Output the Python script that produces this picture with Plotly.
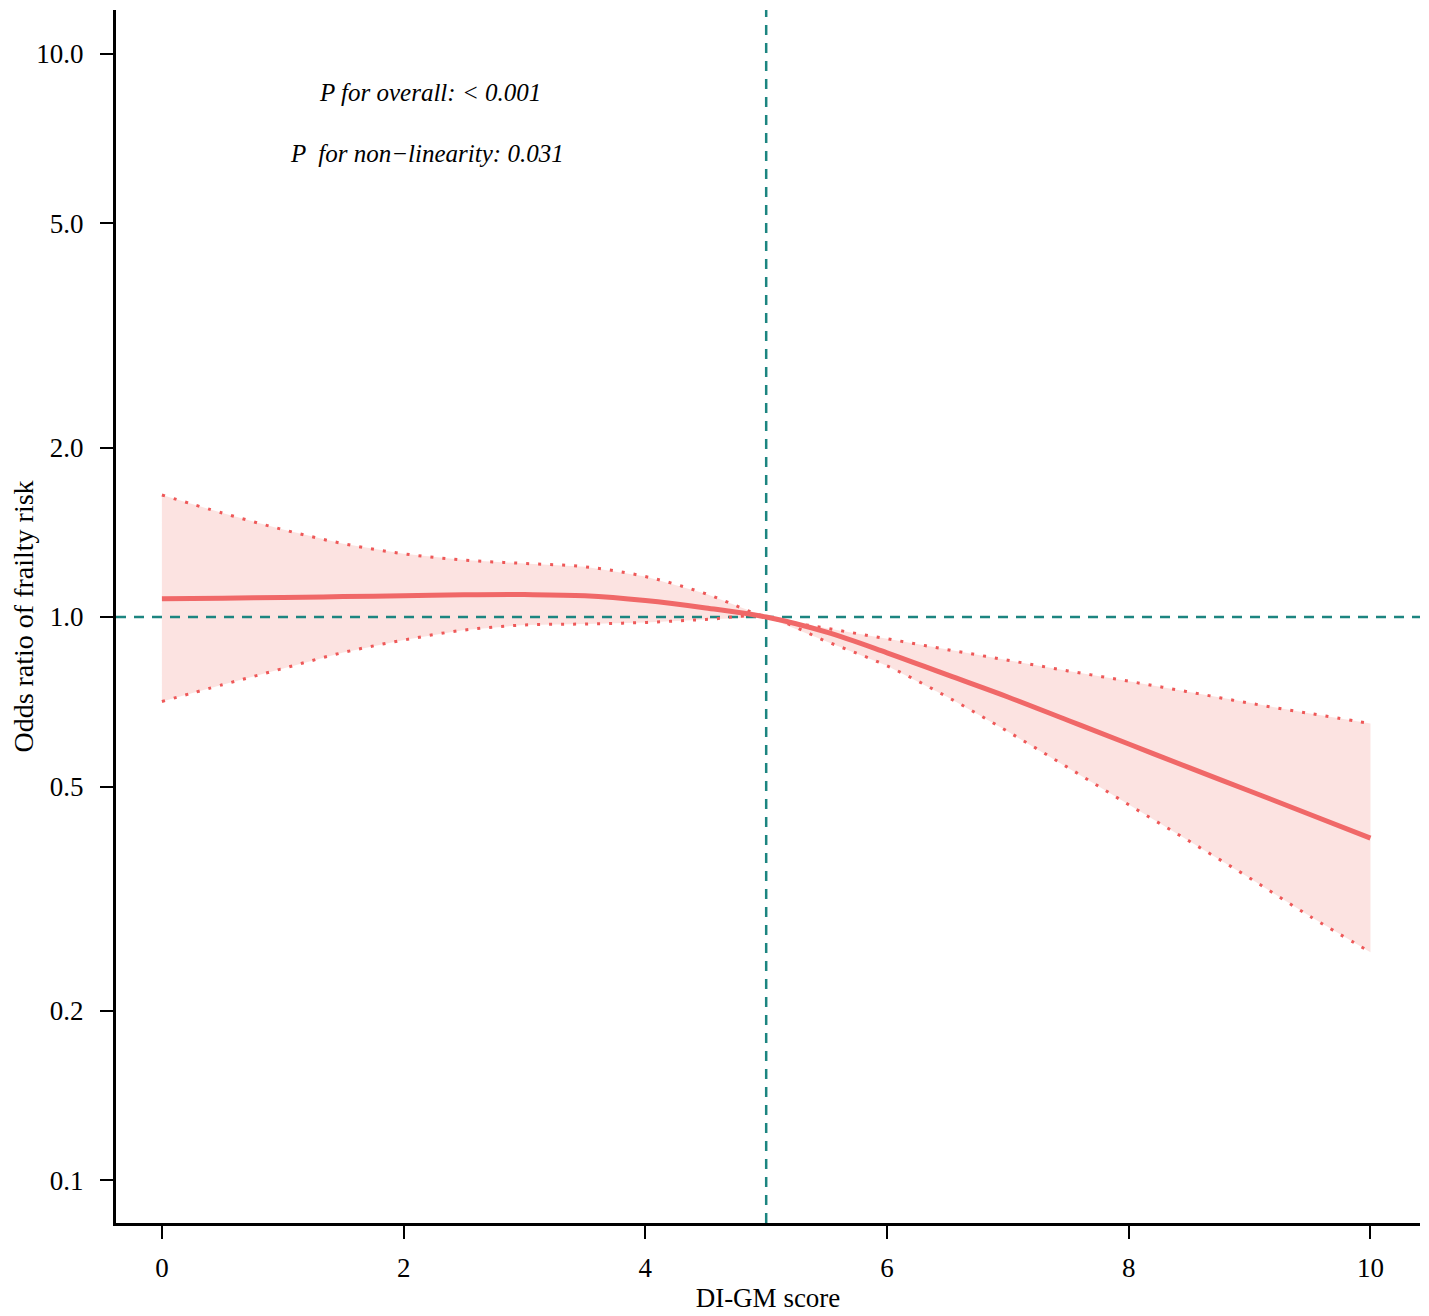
import numpy as np
import plotly.graph_objects as go

# DI-GM score grid
score = [0, 0.5, 1, 1.5, 2, 2.5, 3, 3.5, 4, 4.5, 5,
         5.5, 6, 6.5, 7, 7.5, 8, 8.5, 9, 9.5, 10]

# odds ratio and 95% CI
odds_ratio = [1.078, 1.080, 1.083, 1.087, 1.091, 1.095, 1.096, 1.091, 1.070, 1.038, 1.000,
              0.940, 0.864, 0.789, 0.721, 0.655, 0.595, 0.540, 0.491, 0.446, 0.405]
ci_upper = [1.647, 1.530, 1.430, 1.350, 1.295, 1.262, 1.245, 1.228, 1.180, 1.100, 1.000,
            0.955, 0.915, 0.875, 0.838, 0.802, 0.769, 0.736, 0.703, 0.674, 0.647]
ci_lower = [0.708, 0.758, 0.810, 0.865, 0.910, 0.948, 0.968, 0.972, 0.978, 0.990, 1.000,
            0.905, 0.819, 0.721, 0.626, 0.540, 0.464, 0.400, 0.344, 0.294, 0.254]

ref_x = 5
ref_or = 1.0
x_range = [-0.38, 10.41]
y_range = [0.0839, 11.97]

y_ticks = [0.1, 0.2, 0.5, 1.0, 2.0, 5.0, 10.0]
y_ticktext = ["0.1", "0.2", "0.5", "1.0", "2.0", "5.0", "10.0"]
x_ticks = [0, 2, 4, 6, 8, 10]

RED = "#F06868"
DOT_RED = "#EE5858"
FILL = "rgba(250, 200, 196, 0.5)"
TEAL = "#1C8580"
FONT = "Liberation Serif"

fig = go.Figure()

# CI band
fig.add_trace(go.Scatter(
    x=score + score[::-1],
    y=ci_upper + ci_lower[::-1],
    fill="toself",
    fillcolor=FILL,
    line=dict(width=0),
    mode="lines",
    hoverinfo="skip",
    showlegend=False
))

# reference lines
fig.add_trace(go.Scatter(
    x=x_range, y=[ref_or, ref_or], mode="lines",
    line=dict(color=TEAL, width=2.5, dash="10px,8px"),
    showlegend=False, hoverinfo="skip"
))
fig.add_trace(go.Scatter(
    x=[ref_x, ref_x], y=y_range, mode="lines",
    line=dict(color=TEAL, width=2.5, dash="10px,8px"),
    showlegend=False, hoverinfo="skip"
))

# CI bounds
for bound in (ci_upper, ci_lower):
    fig.add_trace(go.Scatter(
        x=score, y=bound, mode="lines",
        line=dict(color=DOT_RED, width=3, dash="3px,9px", shape="spline"),
        showlegend=False
    ))

# fitted curve
fig.add_trace(go.Scatter(
    x=score, y=odds_ratio, mode="lines",
    line=dict(color=RED, width=5, shape="spline"),
    showlegend=False
))

axis_common = dict(
    showline=True, linecolor="black", linewidth=3,
    ticks="outside", ticklen=13, tickwidth=2, tickcolor="black",
    showgrid=False, zeroline=False,
    tickfont=dict(family=FONT, size=27, color="black"),
)

# page body adds 8px offset, so the figure is sized to fit the window
fig.update_layout(
    width=1421, height=1308,
    margin=dict(l=108, r=9, t=2, b=93),
    paper_bgcolor="white", plot_bgcolor="white",
    font=dict(family=FONT, color="black"),
    xaxis=dict(
        range=x_range, tickvals=x_ticks, ticklabelstandoff=6,
        title=dict(text="DI-GM score", font=dict(family=FONT, size=27), standoff=6),
        **axis_common
    ),
    yaxis=dict(
        type="log", range=[np.log10(y_range[0]), np.log10(y_range[1])],
        tickvals=y_ticks, ticktext=y_ticktext, ticklabelstandoff=11,
        title=dict(text="Odds ratio of frailty risk", font=dict(family=FONT, size=28), standoff=2),
        **axis_common
    ),
    annotations=[
        dict(text="<i>P for overall: &lt; 0.001</i>", x=0.2408, y=0.9316,
             xref="paper", yref="paper", xanchor="center", yanchor="middle",
             showarrow=False, font=dict(family=FONT, size=25, color="black")),
        dict(text="<i>P  for non−linearity: 0.031</i>", x=0.2385, y=0.882,
             xref="paper", yref="paper", xanchor="center", yanchor="middle",
             showarrow=False, font=dict(family=FONT, size=25, color="black")),
    ]
)

fig.write_html("out.html")
